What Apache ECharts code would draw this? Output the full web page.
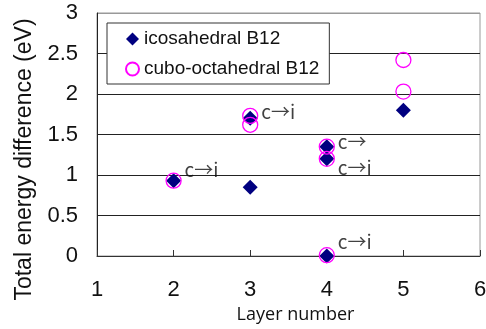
<!DOCTYPE html>
<html>
<head>
<meta charset="utf-8">
<script src="https://cdn.jsdelivr.net/npm/echarts@6/dist/echarts.min.js"></script>
<style>
  html, body { margin: 0; padding: 0; background: #fff; }
  #chart { width: 486px; height: 329px; }
</style>
</head>
<body>
<div id="chart"></div>
<script>
// 数据
const icoX = [2, 3, 3, 4, 4, 4, 5];
const icoY = [0.93, 1.70, 0.85, 1.35, 1.20, 0.0, 1.80];
const cuboX = [2, 3, 3, 4, 4, 4, 5, 5];
const cuboY = [0.93, 1.73, 1.62, 1.35, 1.20, 0.01, 2.42, 2.03];

// 注释 c→i
const noteX = [2, 3, 4, 4, 4];
const noteY = [1.06, 1.78, 1.41, 1.09, 0.17];
const noteText = ['c→i', 'c→i', 'c→', 'c→i', 'c→i'];

const yTicks = [0, 0.5, 1, 1.5, 2, 2.5, 3];

const font = '"Liberation Sans", Arial, sans-serif';

function pairs(xs, ys) {
  return xs.map((x, i) => [x, ys[i]]);
}

const myChart = echarts.init(document.getElementById('chart'));
myChart.setOption({
  animation: false,
  grid: {
    left: 97, right: 6, top: 13, bottom: 73,
    outerBoundsMode: 'none',
    containLabel: false,
    show: true, borderColor: '#999', borderWidth: 1
  },
  legend: {
    left: 107, top: 23,
    orient: 'vertical',
    padding: [6, 10, 5, 18],
    itemGap: 10,
    itemWidth: 13, itemHeight: 13,
    borderColor: '#333', borderWidth: 1,
    backgroundColor: '#fff',
    textStyle: { fontFamily: font, fontSize: 19, lineHeight: 20, color: '#111' },
    data: ['icosahedral B12', 'cubo-octahedral B12']
  },
  xAxis: {
    type: 'value', min: 1, max: 6, interval: 1,
    name: 'Layer number', nameLocation: 'middle', nameGap: 49,
    nameTextStyle: { fontFamily: '"Open Sans", sans-serif', fontSize: 18, color: '#111', padding: [0, 0, 0, 14] },
    axisLine: { lineStyle: { color: '#333' } },
    axisTick: { inside: true, length: 6, lineStyle: { color: '#333' } },
    axisLabel: { fontFamily: font, fontSize: 22, color: '#111', margin: 23 },
    splitLine: { show: false }
  },
  yAxis: {
    type: 'value', min: 0, max: 3, interval: 0.5,
    name: 'Total energy difference (eV)', nameLocation: 'middle', nameGap: 52,
    nameTextStyle: { fontFamily: font, fontSize: 23, color: '#111', padding: [0, 50, 0, 0] },
    axisLine: { show: true, lineStyle: { color: '#222' } },
    axisTick: { show: false },
    axisLabel: { fontFamily: font, fontSize: 22, color: '#111', margin: 19,
      formatter: v => yTicks.includes(v) ? String(v) : '' },
    splitLine: { lineStyle: { color: ['#222', '#222', '#222', '#222', '#222', '#222', '#999'], width: 1 } }
  },
  series: [
    {
      name: 'icosahedral B12',
      type: 'scatter',
      symbol: 'diamond',
      symbolSize: 15,
      itemStyle: { color: '#000080', opacity: 1 },
      data: pairs(icoX, icoY),
      z: 3
    },
    {
      name: 'cubo-octahedral B12',
      type: 'scatter',
      symbol: 'circle',
      symbolSize: 15,
      itemStyle: { color: 'rgba(0,0,0,0)', borderColor: '#ff00ff', borderWidth: 1.3, opacity: 1 },
      data: pairs(cuboX, cuboY),
      z: 4
    },
    {
      name: 'notes',
      type: 'scatter',
      symbolSize: 0,
      silent: true,
      label: {
        show: true, position: 'right', distance: 11,
        fontFamily: '"Noto Sans CJK JP", sans-serif', fontSize: 19, color: '#111',
        formatter: p => noteText[p.dataIndex]
      },
      data: pairs(noteX, noteY),
      z: 5
    }
  ]
});
</script>
</body>
</html>
